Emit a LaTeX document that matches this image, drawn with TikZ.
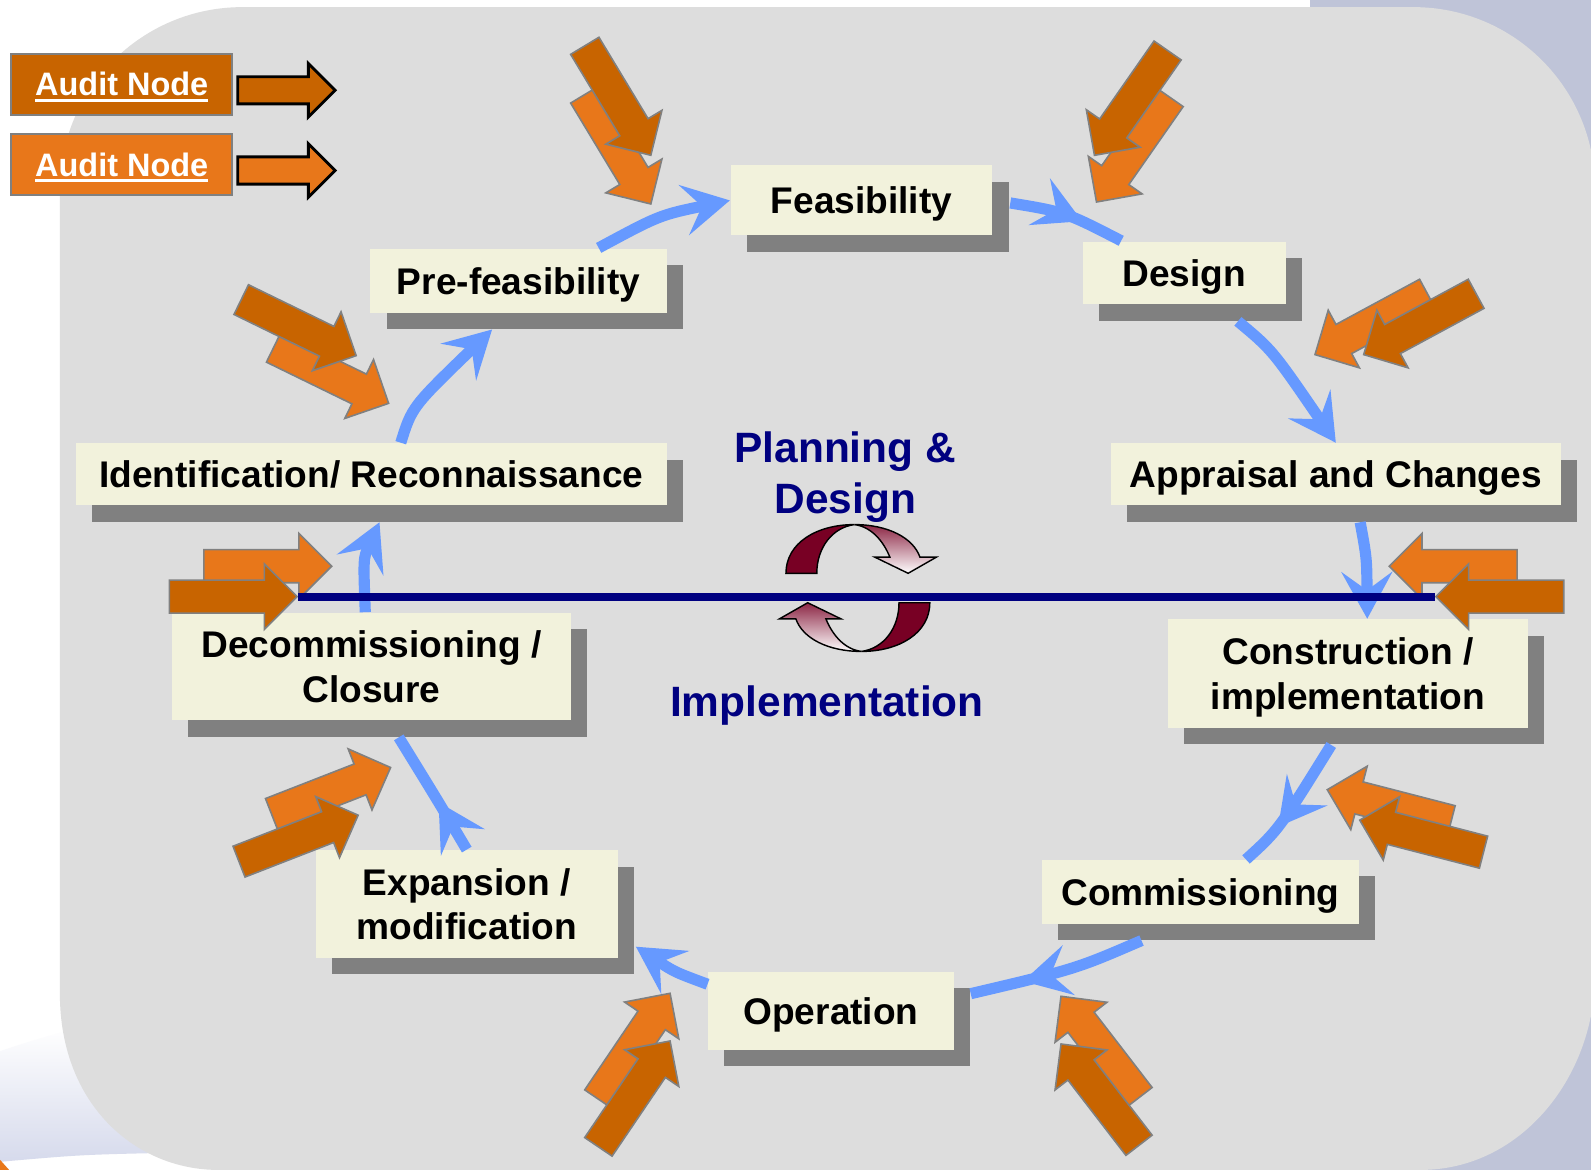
\documentclass[tikz,border=0pt]{standalone}
\usepackage{fontspec}
\setmainfont{Liberation Sans}
\usetikzlibrary{shapes,arrows.meta,calc,shadows,decorations.markings}

\definecolor{paneGrey}{RGB}{221,221,221}
\definecolor{edgeBlue}{RGB}{191,196,216}
\definecolor{swooshBlue}{RGB}{214,218,236}
\definecolor{stageFill}{RGB}{242,242,220}
\definecolor{shadowGrey}{RGB}{128,128,128}
\definecolor{flowBlue}{RGB}{102,153,255}
\definecolor{auditDark}{RGB}{200,100,0}
\definecolor{auditLight}{RGB}{232,119,26}
\definecolor{phaseNavy}{RGB}{0,0,128}
\definecolor{loopRed}{RGB}{120,0,36}

\newcommand{\keyline}[1]{\setbox0\hbox{#1}\rlap{\rule[-1.7pt]{\wd0}{0.85pt}}\box0}

\tikzset{
  stage/.style={fill=stageFill, inner sep=0pt, align=center,
    font=\fontsize{10.4}{12.5}\selectfont\bfseries,
    drop shadow={shadow xshift=1.6mm, shadow yshift=-1.6mm, fill=shadowGrey, opacity=1}},
  oneline/.style={text depth=0pt},
  keybox/.style={draw=shadowGrey, line width=0.5pt, minimum width=21.8mm, minimum height=6mm,
    inner sep=0pt, text depth=0pt, text=white, font=\fontsize{9.1}{11}\selectfont\bfseries},
  keyarrow/.style={single arrow, draw=black, line width=0.8pt, inner xsep=0pt, inner ysep=1.2mm,
    anchor=tail, minimum height=9.6mm, single arrow head extend=1.3mm},
  audit/.style={single arrow, draw=shadowGrey, line width=0.45pt, inner xsep=0pt, inner ysep=1.55mm,
    anchor=tip, minimum height=12.6mm, single arrow head extend=1.6mm},
  flowhead/.tip={Stealth[length=4.6mm, width=5mm, inset=1.8mm]},
  flow/.style={draw=flowBlue, line width=1.1mm, -flowhead},
  flowmid/.style={draw=flowBlue, line width=1.1mm, postaction={decorate},
    decoration={markings, mark=at position #1 with {\arrow[flowBlue]{flowhead}}}},
  phase/.style={text=phaseNavy, align=center, font=\fontsize{11.9}{14.2}\selectfont\bfseries},
  midline/.style={draw=phaseNavy, line width=0.8mm}
}

\begin{document}
\begin{tikzpicture}[x=0.1mm, y=-0.1mm]
  \useasboundingbox (0,0) rectangle (1568,1153);
  \clip (0,0) rectangle (1568,1153);

  % Backdrop
  \fill[white] (0,0) rectangle (1568,1153);
  \fill[edgeBlue] (1291,0) rectangle (1568,1153);
  \shade[top color=white, bottom color=swooshBlue] (0,1036) .. controls (30,1026) .. (80,1012)
    -- (170,1136) .. controls (80,1138) .. (0,1145) -- cycle;
  \fill[auditLight] (0,1143) -- (9,1153) -- (0,1153) -- cycle;
  \fill[paneGrey] (59,187) .. controls (59,88) and (139,7) .. (239,7) -- (1393,7)
    .. controls (1492,7) and (1572,87) .. (1572,186) -- (1572,960)
    .. controls (1572,1060) and (1500,1153) .. (1400,1153) -- (215,1153)
    .. controls (135,1153) and (59,1090) .. (59,979) -- cycle;

  % Key
  \node[keybox, fill=auditDark] (key1) at (120,83) {\keyline{Audit Node}};
  \node[keybox, fill=auditLight] (key2) at (120,162) {\keyline{Audit Node}};
  \node[keyarrow, fill=auditDark] (key1arrow) at ($(key1.east)+(3,6)$) {};
  \node[keyarrow, fill=auditLight] (key2arrow) at ($(key2.east)+(3,6)$) {};

  % Stages
  \node[stage, oneline, minimum width=25.8mm, minimum height=6.9mm] (feas) at (849,197.5) {Feasibility};
  \node[stage, oneline, minimum width=20mm, minimum height=6.2mm] (design) at (1167,269) {Design};
  \node[stage, oneline, minimum width=29.2mm, minimum height=6.3mm] (prefeas) at (511,276.5) {Pre-feasibility};
  \node[stage, oneline, minimum width=58.2mm, minimum height=6.1mm] (ident) at (366,467.5) {Identification/ Reconnaissance};
  \node[stage, oneline, minimum width=44.3mm, minimum height=6.1mm] (apprais) at (1316.5,467.5) {Appraisal and Changes};
  \node[stage, minimum width=39.3mm, minimum height=10.6mm] (decom) at (366,657) {Decommissioning /\\Closure};
  \node[stage, oneline, minimum width=35.5mm, minimum height=10.7mm] (constr) at (1328.5,664) {Construction /\\implementation};
  \node[stage, minimum width=29.8mm, minimum height=10.6mm] (expans) at (460,891) {Expansion /\\modification};
  \node[stage, oneline, minimum width=31.2mm, minimum height=6.25mm] (commis) at (1183,879) {Commissioning};
  \node[stage, oneline, minimum width=24.2mm, minimum height=7.7mm] (oper) at (819,996.5) {Operation};

  % Life cycle
  \draw[flow] ($(ident.north)+(29,0)$) .. controls (406,401) .. ($(prefeas.south)+(-26,16)$);
  \draw[flow] ($(prefeas.north)+(79,0)$) .. controls (650,212) .. (feas.west);
  \draw[flowmid=0.63] ($(feas.east)+(17,2.5)$) .. controls (1050,209) .. ($(design.north)+(-62,0)$);
  \draw[flow] ($(design.south)+(53,16)$) .. controls (1254,345) .. (apprais.north);
  \draw[flow] ($(apprais.south)+(24,16)$) .. controls (1347,550) .. ($(constr.north)+(19,0)$);
  \draw[flowmid=0.68] ($(constr.south)+(-16.5,16)$) .. controls (1260,818) .. ($(commis.north)+(45,0)$);
  \draw[flowmid=0.7] ($(commis.south)+(-58,16)$) .. controls (1060,955) .. ($(oper.north east)+(16,22)$);
  \draw[flow] ($(oper.west)+(0,-26.5)$) .. controls (665,958) .. ($(expans.east)+(17,42)$);
  \draw[flowmid=0.42] (expans.north) .. controls (432,790) .. ($(decom.south)+(27,16)$);
  \draw[flow] ($(decom.north)+(-6,0)$) .. controls (358,550) .. ($(ident.south)+(8,16)$);

  % Audit points
  \foreach \lx/\ly/\dx/\dy/\ang/\n in {642/202/642/154/-58.9/p1, 1080/200/1078/154/-124.9/p2,
      1295/350/1343/350/-151.6/p3, 1368/558/1414/588/180/p4, 328/558/294/588/0/p5,
      384/398/352/351/-26/p6, 386/756/354/803/21.3/p7, 661/978/661/1025/55.9/p8,
      1307/778/1339/808/165.5/p9, 1045/981/1045/1028/127.6/p10}{
    \node[audit, fill=auditLight, rotate=\ang] (\n-l) at (\lx,\ly) {};
    \node[audit, fill=auditDark, rotate=\ang] (\n-d) at (\dx,\dy) {};
  }

  % Divide
  \draw[midline] (p5-d.tip) -- (p4-d.tip);

  % Planning and implementation loop
  \foreach \turn in {0,180}{
    \begin{scope}[rotate around={\turn:(845.5,579.5)}, line width=0.4pt]
      \filldraw[fill=loopRed, draw=black] (842,517) .. controls (805,517) and (774.6,535) .. (774.6,565)
        -- (805,565) .. controls (805,540) and (820,520) .. (842,517) -- cycle;
      \shadedraw[top color=loopRed!85, bottom color=white, draw=black] (842,517)
        .. controls (875,517) and (900,530) .. (906.6,549) -- (923,549) -- (895,565) -- (862,549)
        -- (877,549) .. controls (870,532) and (858,519) .. (842,517) -- cycle;
    \end{scope}
  }
  \node[phase] (plan) at (833,470) {Planning \&\\Design};
  \node[phase] (impl) at (815,695) {Implementation};
\end{tikzpicture}
\end{document}
